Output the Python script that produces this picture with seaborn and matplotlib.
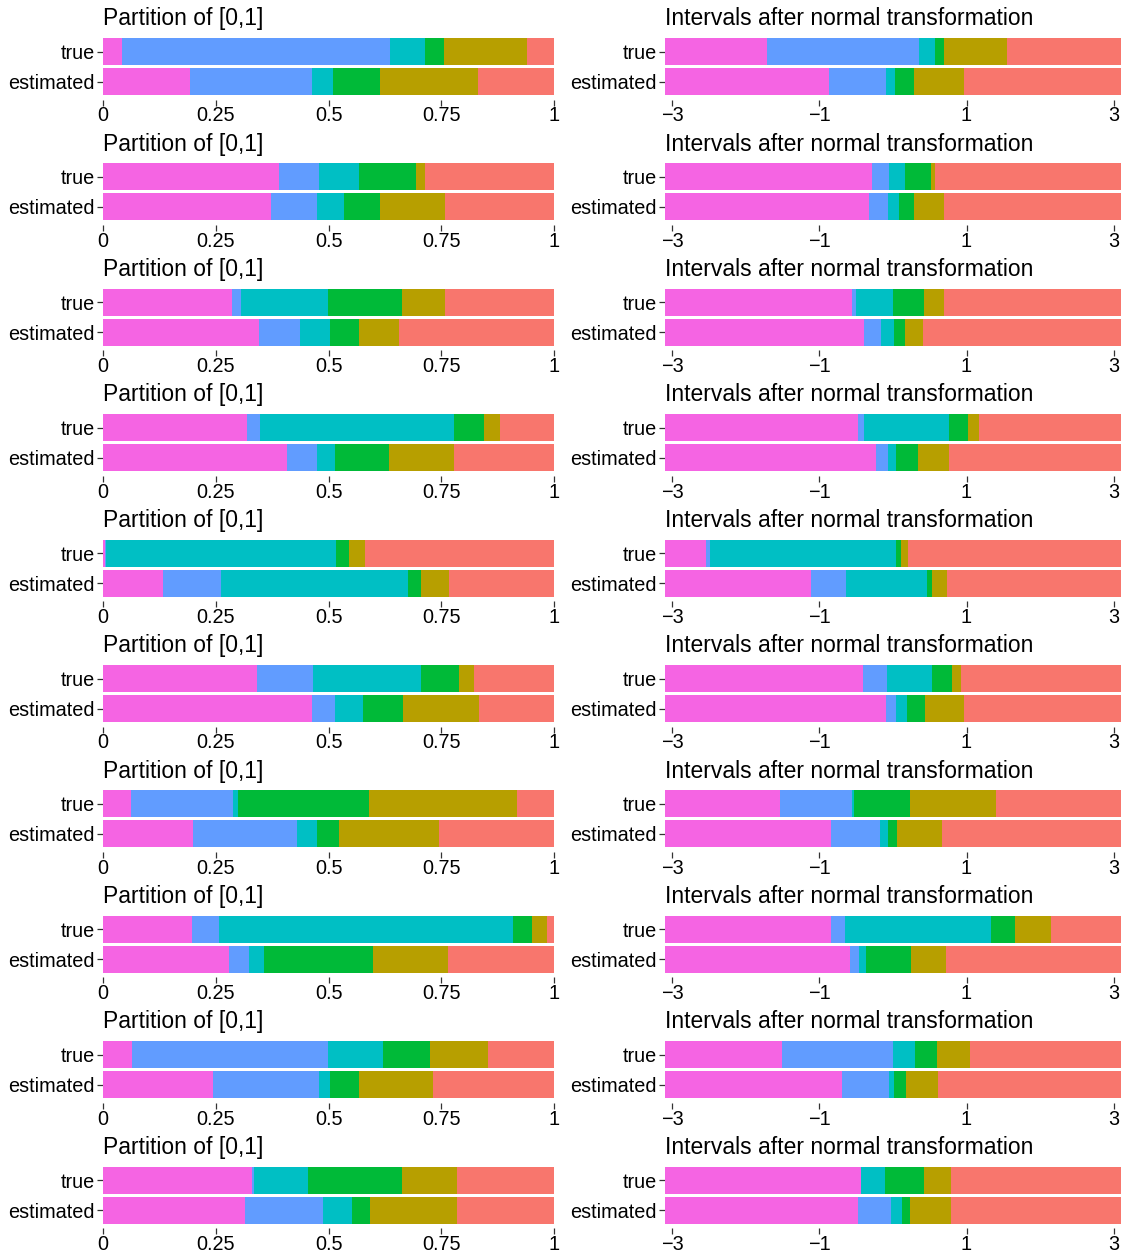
import numpy as np
import pandas as pd
import matplotlib
matplotlib.use("Agg")
import matplotlib.pyplot as plt
import seaborn as sns
from statistics import NormalDist

# ---- data: cumulative cut points of the 6-part partition of [0,1] ----
groups = ["true", "estimated"]
seg_colors = ["#F564E3", "#619CFF", "#00BFC4", "#00BA38", "#B79F00", "#F8766D"]

true_cuts = [
    [0.043, 0.637, 0.714, 0.757, 0.940],
    [0.390, 0.479, 0.567, 0.695, 0.714],
    [0.287, 0.307, 0.499, 0.662, 0.758],
    [0.319, 0.348, 0.778, 0.845, 0.880],
    [0.0054, 0.0063, 0.517, 0.546, 0.582],
    [0.342, 0.466, 0.704, 0.790, 0.823],
    [0.063, 0.288, 0.300, 0.590, 0.919],
    [0.198, 0.258, 0.908, 0.952, 0.984],
    [0.065, 0.499, 0.620, 0.726, 0.853],
    [0.330, 0.334, 0.455, 0.664, 0.784],
]
est_cuts = [
    [0.193, 0.464, 0.510, 0.614, 0.832],
    [0.373, 0.475, 0.535, 0.614, 0.758],
    [0.346, 0.437, 0.503, 0.567, 0.656],
    [0.407, 0.474, 0.515, 0.635, 0.778],
    [0.132, 0.262, 0.677, 0.704, 0.768],
    [0.463, 0.515, 0.577, 0.666, 0.834],
    [0.200, 0.431, 0.474, 0.524, 0.746],
    [0.280, 0.324, 0.357, 0.599, 0.765],
    [0.244, 0.479, 0.503, 0.568, 0.731],
    [0.315, 0.487, 0.551, 0.592, 0.785],
]

left_title = "Partition of [0,1]"
right_title = "Intervals after normal transformation"
left_ticks = [0, 0.25, 0.5, 0.75, 1]
left_ticklabels = ["0", "0.25", "0.5", "0.75", "1"]
right_ticks = [-3, -1, 1, 3]
right_ticklabels = ["\u22123", "\u22121", "1", "3"]

# ---- figure ----
sns.set_theme(style="white")
plt.rcParams['font.family'] = ['Liberation Sans', 'DejaVu Sans']

W, H = 1126, 1254
fig = plt.figure(figsize=(W / 100, H / 100), dpi=100)
fig.patch.set_facecolor("white")

RLIM = 3.1
nd = NormalDist()


def style_axes(ax, title):
    for s in ax.spines.values():
        s.set_visible(False)
    ax.set_facecolor("white")
    ax.set_xlabel("")
    ax.set_ylabel("")
    ax.set_ylim(1.6, -0.6)
    ax.set_yticks([0, 1])
    ax.set_yticklabels(groups)
    ax.tick_params(axis="both", which="both", bottom=True, left=True,
                   length=4, width=0.9, color="#333333", labelsize=14.3,
                   labelcolor="black", pad=2)
    ax.tick_params(axis="x", pad=1)
    ax.set_title(title, loc="left", fontsize=16.5, pad=6, color="black")
    ax.grid(False)


pitch = H / 10.0
for i in range(10):
    top = pitch * i + 33.5
    h = 66
    # left: partition of [0,1]
    axl = fig.add_axes([103 / W, 1 - (top + h) / H, 451 / W, h / H])
    tc = true_cuts[i] + [1.0]
    ec = est_cuts[i] + [1.0]
    for k in range(5, -1, -1):
        df = pd.DataFrame({"group": groups, "x": [tc[k], ec[k]]})
        sns.barplot(data=df, x="x", y="group", order=groups, color=seg_colors[k],
                    saturation=1, width=0.9, linewidth=0, orient="h", ax=axl)
    axl.set_xlim(0, 1)
    axl.set_xticks(left_ticks)
    axl.set_xticklabels(left_ticklabels)
    style_axes(axl, left_title)

    # right: after normal transformation
    axr = fig.add_axes([665 / W, 1 - (top + h) / H, 456 / W, h / H])
    for gi, cuts in enumerate([true_cuts[i], est_cuts[i]]):
        b = [-RLIM] + [max(-RLIM, min(RLIM, nd.inv_cdf(c))) for c in cuts] + [RLIM]
        for k in range(6):
            axr.barh(y=gi, width=b[k + 1] - b[k], left=b[k], height=0.9,
                     color=seg_colors[k], linewidth=0)
    axr.set_xlim(-RLIM, RLIM)
    axr.set_xticks(right_ticks)
    axr.set_xticklabels(right_ticklabels)
    style_axes(axr, right_title)

fig.savefig("out.png", dpi=100, facecolor="white")
